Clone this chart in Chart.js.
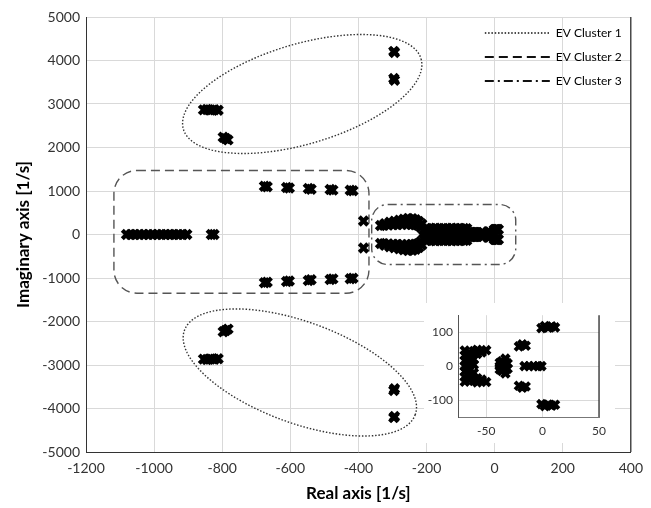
<!DOCTYPE html>
<html>
<head>
<meta charset="utf-8">
<script src="https://cdn.jsdelivr.net/npm/chart.js@4.4.1/dist/chart.umd.min.js"></script>
<style>
  body { margin: 0; background: #fff; }
  #wrap { position: relative; width: 651px; height: 508px; }
  #insetChart { position: absolute; left: 424px; top: 303px; background: #fff; }
</style>
</head>
<body>
<div id="wrap">
  <canvas id="rootChart" width="651" height="508"></canvas>
  <canvas id="insetChart" width="191" height="140"></canvas>
</div>
<script>
// eigenvalues, real / imaginary parts [1/s]
const cluster1Re = [-296, -294, -296, -294, -855, -845, -834, -823, -812, -797, -790, -783,
                    -296, -294, -296, -294, -855, -845, -834, -823, -812, -797, -790, -783];
const cluster1Im = [4210, 4185, 3585, 3545, 2865, 2872, 2860, 2868, 2858, 2235, 2205, 2175,
                    -4210, -4185, -3585, -3545, -2865, -2872, -2860, -2868, -2858, -2235, -2205, -2175];

const cluster2Re = [-1081, -1068, -1056, -1043, -1030, -1017, -1004, -991, -978, -966, -953, -941, -929, -916, -904, -832, -824,
                    -676, -668, -611, -603, -547, -539, -483, -475, -424, -416,
                    -676, -668, -611, -603, -547, -539, -483, -475, -424, -416,
                    -385, -385];
const cluster2Im = [0, 0, 0, 0, 0, 0, 0, 0, 0, 0, 0, 0, 0, 0, 0, 0, 0,
                    1110, 1096, 1082, 1068, 1058, 1042, 1035, 1020, 1018, 1004,
                    -1110, -1096, -1082, -1068, -1058, -1042, -1035, -1020, -1018, -1004,
                    310, -310];

const cluster3Re = [
  // fan
  -335, -325, -322, -312, -308, -298, -294, -285, -280, -272, -267, -258, -254, -245, -242, -234, -232, -225, -223, -216, -214, -208,
  -335, -325, -322, -312, -308, -298, -294, -285, -280, -272, -267, -258, -254, -245, -242, -234, -232, -225, -223, -216, -214, -208,
  // band
  -198, -198, -186, -186, -174, -174, -162, -162, -150, -150, -138, -138, -126, -126, -114, -114, -102, -102, -90, -90, -82, -82,
  -198, -198, -186, -186, -174, -174, -162, -162, -150, -150, -138, -138, -126, -126, -114, -114, -102, -102, -90, -90, -82, -82,
  // near origin (inset)
  -69, -69, -69, -69, -65, -65, -65, -65, -61, -61, -61, -58, -54, -50, -58, -54, -38, -36, -33, -31, -35, -38, -33,
  -21, -18, -15, -16, -12, -8, -4, -1, -1, 2, 5, 8, 11,
  -69, -69, -69, -65, -65, -65, -61, -61, -58, -54, -50, -58, -54, -36, -33, -31, -35, -38, -33,
  -21, -18, -15, -1, 2, 5, 8, 11
];
const cluster3Im = [
  205, 215, 250, 220, 280, 225, 305, 230, 330, 232, 350, 235, 370, 232, 365, 225, 340, 210, 300, 160, 240, 100,
  -205, -215, -250, -220, -280, -225, -305, -230, -330, -232, -350, -235, -370, -232, -365, -225, -340, -210, -300, -160, -240, -100,
  50, 140, 52, 138, 48, 142, 50, 140, 52, 138, 50, 140, 48, 142, 50, 138, 52, 140, 50, 138, 48, 135,
  -50, -140, -52, -138, -48, -142, -50, -140, -52, -138, -50, -140, -48, -142, -50, -138, -52, -140, -50, -138, -48, -135,
  46, 32, 16, 0, 40, 26, 10, 0, 44, 20, 4, 48, 44, 47, 36, 40, 0, 14, 22, 8, 5, 10, 12,
  58, 64, 60, 0, 0, 0, 0, 0, 112, 118, 113, 117, 114,
  -46, -32, -16, -40, -26, -10, -44, -20, -48, -44, -47, -36, -40, -14, -22, -8, -5, -10, -12,
  -58, -64, -60, -112, -118, -113, -117, -114
];

const reTicks = [-1200, -1000, -800, -600, -400, -200, 0, 200, 400];
const imTicks = [-5000, -4000, -3000, -2000, -1000, 0, 1000, 2000, 3000, 4000, 5000];
const insetReTicks = [-50, 0, 50];
const insetImTicks = [-100, 0, 100];
const clusterNames = ['EV Cluster 1', 'EV Cluster 2', 'EV Cluster 3'];

// outlines around the clusters, in axis units
const ellipses = [
  { cluster: 0, c: [-565, 3230], u: [349, 809], v: [41, -1103] },
  { cluster: 0, c: [-572, -3172], u: [339, -968], v: [-50, -1094] }
];
const boxes = [
  { cluster: 1, re: [-1118, -369], im: [-1349, 1471], r: 23 },
  { cluster: 2, re: [-361, 62], im: [-690, 690], r: 16 }
];
const clusterStyles = [
  { dash: [1.5, 1.8], color: '#333' },
  { dash: [9, 5], color: '#555' },
  { dash: [9, 4, 2, 4], color: '#555' }
];

Chart.defaults.font.family = 'Lato';
Chart.defaults.color = '#333';

function points(re, im) {
  return re.map((v, i) => ({ x: v, y: im[i] }));
}

const plainNumber = v => String(v);

const marker = {
  pointStyle: 'crossRot',
  pointRadius: 6,
  borderWidth: 4.2,
  borderColor: '#000',
  backgroundColor: '#000'
};

const rightFrame = {
  id: 'rightFrame',
  afterDraw(chart) {
    const { ctx, chartArea } = chart;
    ctx.save();
    ctx.strokeStyle = '#222';
    ctx.lineWidth = 1.2;
    ctx.beginPath();
    ctx.moveTo(chartArea.right, chartArea.top);
    ctx.lineTo(chartArea.right, chartArea.bottom);
    ctx.stroke();
    ctx.restore();
  }
};

const clusterOutlines = {
  id: 'clusterOutlines',
  beforeDatasetsDraw(chart) {
    const { ctx } = chart;
    const x = chart.scales.x, y = chart.scales.y;
    ctx.save();
    ctx.lineWidth = 1.4;
    ellipses.forEach(e => {
      const st = clusterStyles[e.cluster];
      ctx.setLineDash(st.dash);
      ctx.strokeStyle = st.color;
      ctx.beginPath();
      for (let i = 0; i <= 200; i++) {
        const t = i / 200 * 2 * Math.PI;
        const px = x.getPixelForValue(e.c[0] + e.u[0] * Math.cos(t) + e.v[0] * Math.sin(t));
        const py = y.getPixelForValue(e.c[1] + e.u[1] * Math.cos(t) + e.v[1] * Math.sin(t));
        if (i === 0) ctx.moveTo(px, py); else ctx.lineTo(px, py);
      }
      ctx.stroke();
    });
    boxes.forEach(b => {
      const st = clusterStyles[b.cluster];
      const x0 = x.getPixelForValue(b.re[0]), x1 = x.getPixelForValue(b.re[1]);
      const y0 = y.getPixelForValue(b.im[1]), y1 = y.getPixelForValue(b.im[0]);
      ctx.setLineDash(st.dash);
      ctx.strokeStyle = st.color;
      ctx.beginPath();
      ctx.roundRect(x0, y0, x1 - x0, y1 - y0, b.r);
      ctx.stroke();
    });
    ctx.restore();
  },
  afterLayout(chart) {
    // put the legend in the top right corner of the plot
    const lg = chart.legend;
    const w = lg.width;
    lg.left = chart.chartArea.right - 158;
    lg.right = lg.left + w;
    lg.top = chart.chartArea.top - 2;
  }
};

new Chart(document.getElementById('rootChart').getContext('2d'), {
  type: 'scatter',
  data: {
    datasets: [
      Object.assign({ label: clusterNames[0], data: points(cluster1Re, cluster1Im) }, marker),
      Object.assign({ label: clusterNames[1], data: points(cluster2Re, cluster2Im) }, marker),
      Object.assign({ label: clusterNames[2], data: points(cluster3Re, cluster3Im) }, marker)
    ]
  },
  options: {
    responsive: false,
    animation: false,
    layout: { padding: { top: 17, right: 17, left: 0, bottom: 0 } },
    plugins: {
      tooltip: { enabled: false },
      legend: {
        position: 'chartArea',
        align: 'start',
        labels: {
          usePointStyle: true,
          pointStyleWidth: 65,
          padding: 12,
          color: '#222',
          font: { size: 12 },
          generateLabels: () => clusterNames.map((name, i) => ({
            text: name,
            pointStyle: 'line',
            strokeStyle: '#111',
            fillStyle: '#111',
            lineWidth: i === 0 ? 1.6 : 2.2,
            lineDash: clusterStyles[i].dash,
            hidden: false
          }))
        }
      }
    },
    scales: {
      x: {
        type: 'linear',
        min: -1200,
        max: 400,
        afterBuildTicks: s => { s.ticks = reTicks.map(v => ({ value: v })); },
        afterFit: s => { s.height = 56; },
        grid: { color: '#d9d9d9', drawTicks: false },
        border: { color: '#333' },
        ticks: { padding: 8, font: { size: 14 }, color: '#333', callback: plainNumber },
        title: { display: true, text: 'Real axis [1/s]', color: '#000', font: { size: 17, weight: 'bold' }, padding: { top: 0, bottom: 4 } }
      },
      y: {
        type: 'linear',
        min: -5000,
        max: 5000,
        afterBuildTicks: s => { s.ticks = imTicks.map(v => ({ value: v })); },
        afterFit: s => { s.width = 86; },
        grid: { color: '#d9d9d9', drawTicks: false },
        border: { color: '#333' },
        ticks: { padding: 6, font: { size: 14 }, color: '#333', callback: plainNumber },
        title: { display: true, text: 'Imaginary axis [1/s]', color: '#000', font: { size: 17, weight: 'bold' }, padding: { top: 13, bottom: 0 } }
      }
    }
  },
  plugins: [clusterOutlines, rightFrame]
});

// zoom on the eigenvalues close to the origin
new Chart(document.getElementById('insetChart').getContext('2d'), {
  type: 'scatter',
  data: {
    datasets: [
      Object.assign({ label: clusterNames[2], data: points(cluster3Re, cluster3Im), clip: 0 }, marker, { pointRadius: 5.5, borderWidth: 4 })
    ]
  },
  options: {
    responsive: false,
    animation: false,
    layout: { padding: { top: 7, right: 16, left: 0, bottom: 0 } },
    plugins: { legend: { display: false }, tooltip: { enabled: false } },
    scales: {
      x: {
        type: 'linear',
        min: -75,
        max: 50,
        afterBuildTicks: s => { s.ticks = insetReTicks.map(v => ({ value: v })); },
        afterFit: s => { s.height = 26; },
        grid: { color: '#d9d9d9', drawTicks: false },
        border: { color: '#777' },
        ticks: { padding: 7, font: { size: 12 }, color: '#333', callback: plainNumber }
      },
      y: {
        type: 'linear',
        min: -150,
        max: 150,
        afterBuildTicks: s => { s.ticks = insetImTicks.map(v => ({ value: v })); },
        afterFit: s => { s.width = 34; },
        grid: { color: '#d9d9d9', drawTicks: false },
        border: { color: '#555' },
        ticks: { padding: 5, font: { size: 12 }, color: '#333', callback: plainNumber }
      }
    }
  },
  plugins: [rightFrame]
});
</script>
</body>
</html>
